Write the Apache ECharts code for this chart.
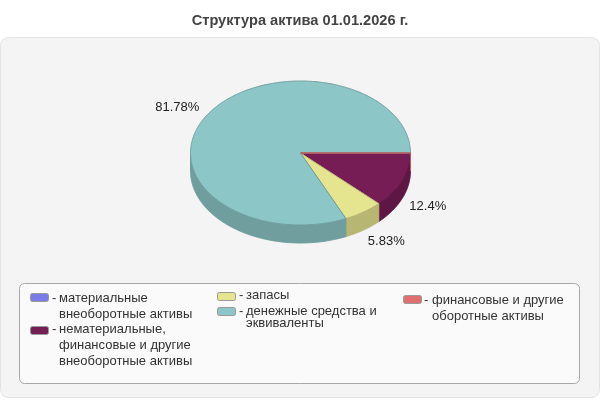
<!DOCTYPE html>
<html>
<head>
<meta charset="utf-8">
<style>html,body{margin:0;padding:0;background:#fff}#c{width:600px;height:400px}</style>
<script src="https://cdn.jsdelivr.net/npm/echarts@6/dist/echarts.min.js"></script>
</head>
<body>
<div id="c"></div>
<script>
const titleText = 'Структура актива 01.01.2026 г.';
const categories = [
  'материальные\nвнеоборотные активы',
  'нематериальные,\nфинансовые и другие\nвнеоборотные активы',
  'запасы',
  'денежные средства и\nэквиваленты',
  'финансовые и другие\nоборотные активы'
];
const values = [0, 12.4, 5.83, 81.78, 0];
const labels = ['', '12.4%', '5.83%', '81.78%', ''];
const topColors = ['#7b7bea', '#761d55', '#e5e48f', '#8cc6c6', '#e06f6f'];
const sideColors = ['#6262bb', '#5e1744', '#b7b672', '#709e9e', '#b35858'];
const edgeColors = ['#6262bb', '#5e1744', '#b7b672', '#709e9e', '#c05a5a'];

const CX = 300.5, CY = 153, RX = 110, RY = 72, DEPTH = 18;
const labelNudge = [[0, 0], [-5, 3], [4, 0], [-3, 1], [0, 0]];
const total = values.reduce((a, b) => a + b, 0);
const FONT = '"Liberation Sans", Arial, sans-serif';

let acc = 0;
const rows = values.map((v, i) => {
  const s = acc / total * Math.PI * 2;
  acc += v;
  return [i, s, acc / total * Math.PI * 2];
});

function arcPts(a, b, dy) {
  const n = Math.max(1, Math.ceil((b - a) / 0.01));
  const pts = [];
  for (let k = 0; k <= n; k++) {
    const t = a + (b - a) * k / n;
    pts.push([CX + RX * Math.cos(t), CY + RY * Math.sin(t) + dy]);
  }
  return pts;
}

function renderSlice(params, api) {
  const i = api.value(0), a = api.value(1), b = api.value(2);
  const children = [];
  const fa = Math.max(a, 0), fb = Math.min(b, Math.PI);
  if (i === 4) {
    children.push({type: 'line', shape: {x1: CX + RX, y1: CY, x2: CX + RX, y2: CY + DEPTH},
      style: {stroke: edgeColors[i], lineWidth: 1, fill: null}});
  } else if (fb > fa) {
    const top = arcPts(fa, fb, 0), low = arcPts(fa, fb, DEPTH).reverse();
    children.push({type: 'polygon', shape: {points: top.concat(low)},
      style: {fill: sideColors[i], stroke: edgeColors[i], lineWidth: 1}});
  }
  const pts = [[CX, CY]].concat(arcPts(a, b, 0));
  children.push({type: 'polygon', shape: {points: pts},
    style: {fill: topColors[i], stroke: edgeColors[i], lineWidth: 1}});
  if (labels[i]) {
    const mid = (a + b) / 2;
    const sn = Math.sin(mid);
    children.push({type: 'text', style: {
      x: CX + RX * 1.3 * Math.cos(mid) + labelNudge[i][0],
      y: CY + RY * 1.2 * sn + (sn > 0 ? DEPTH : 0) + labelNudge[i][1],
      text: labels[i], align: 'center', verticalAlign: 'middle',
      font: '13px ' + FONT, fill: '#222'}});
  }
  return {type: 'group', children};
}

const legendLayout = [
  {x: 30, y: 293, dash: 52, text: 59, top: 298, lh: 16},
  {x: 30, y: 326, dash: 52, text: 59, top: 329, lh: 16},
  {x: 217, y: 292, dash: 239, text: 246, top: 295.5, lh: 16},
  {x: 217, y: 307, dash: 239, text: 246, top: 311, lh: 12.5},
  {x: 403, y: 295, dash: 424, text: 432, top: 300, lh: 16}
];

const graphicEls = [
  {type: 'rect', z: -10, shape: {x: 0.5, y: 37.5, width: 599, height: 360, r: 8},
    style: {fill: '#f4f4f4', stroke: '#e4e4e4', lineWidth: 1}},
  {type: 'rect', z: -9, shape: {x: 19.5, y: 283.5, width: 560, height: 100, r: 5},
    style: {fill: '#fafafa', stroke: '#a8a8a8', lineWidth: 1}}
];
categories.forEach((name, i) => {
  const L = legendLayout[i];
  graphicEls.push({type: 'rect', z: -5, shape: {x: L.x + 0.5, y: L.y + 0.5, width: 18, height: 8, r: 2},
    style: {fill: topColors[i], stroke: '#999', lineWidth: 1}});
  graphicEls.push({type: 'text', z: -5, style: {x: L.dash, y: L.top, text: '-', font: '13px ' + FONT,
    fill: '#333', verticalAlign: 'middle'}});
  name.split('\n').forEach((line, k) => {
    graphicEls.push({type: 'text', z: -5, style: {x: L.text, y: L.top + k * L.lh, text: line,
      font: '13px ' + FONT, fill: '#333', verticalAlign: 'middle'}});
  });
});

const chart = echarts.init(document.getElementById('c'), null, {renderer: 'canvas'});
chart.setOption({
  animation: false,
  backgroundColor: '#fff',
  title: {text: titleText, left: 'center', top: 8,
    textStyle: {fontFamily: FONT, fontSize: 14.6, fontWeight: 'bold', color: '#444'}},
  graphic: {elements: graphicEls},
  series: [{
    type: 'custom',
    coordinateSystem: 'none',
    silent: true,
    data: rows,
    dimensions: ['index', 'start', 'end'],
    renderItem: renderSlice
  }]
});
</script>
</body>
</html>
